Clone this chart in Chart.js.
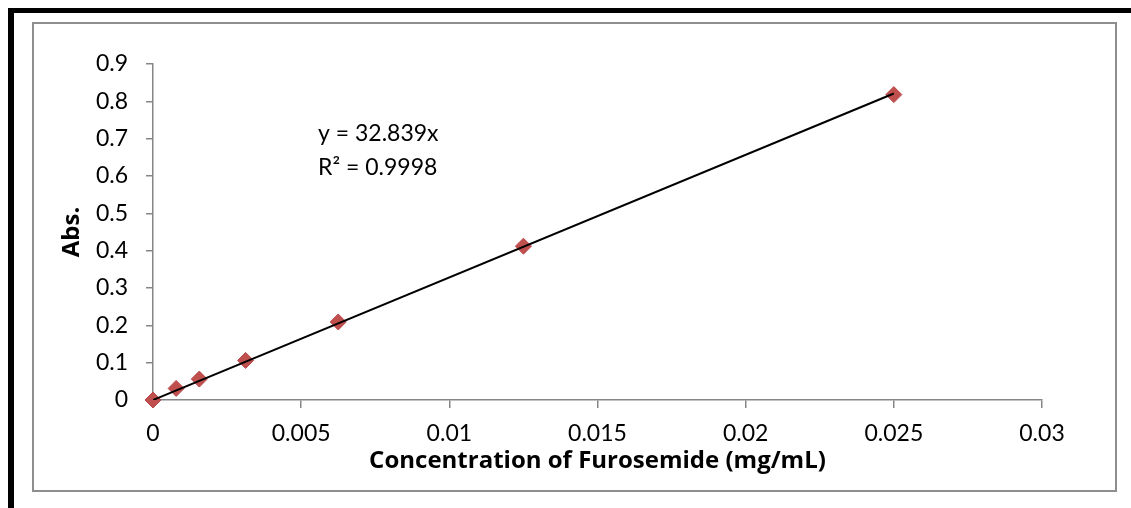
<!DOCTYPE html>
<html>
<head>
<meta charset="utf-8">
<script src="https://cdn.jsdelivr.net/npm/chart.js@4"></script>
<style>
  html, body { margin: 0; padding: 0; background: #fff; overflow: hidden; }
  #frame { position: absolute; left: 8px; top: 8px; width: 2000px; height: 1000px;
           border-left: 6px solid #000; border-top: 5px solid #000; }
  #box { position: absolute; left: 32px; top: 22px; width: 1081px; height: 466px;
         border: 2px solid #8e8e8e; }
  #myChart { position: absolute; left: 0; top: 0; }
</style>
</head>
<body>
<div id="frame"></div>
<div id="box"></div>
<canvas id="myChart" width="1131" height="508"></canvas>
<script>
// data
var concentracao = [0, 0.00078125, 0.0015625, 0.003125, 0.00625, 0.0125, 0.025];
var absorbancia = [0, 0.031, 0.056, 0.106, 0.209, 0.412, 0.818];

// linear trendline (y = 32.839x) endpoints
var tendenciaX = [0, 0.025];
var tendenciaY = [0, 0.821];

var rotulosX = ['0', '0.005', '0.01', '0.015', '0.02', '0.025', '0.03'];
var rotulosY = ['0', '0.1', '0.2', '0.3', '0.4', '0.5', '0.6', '0.7', '0.8', '0.9'];

var equacao = ['y = 32.839x', 'R\u00B2 = 0.9998'];

var fonte = 'Lato';
var fonteTitulo = 'Open Sans';
var cinza = '#868686';

var ctx = document.getElementById('myChart').getContext('2d');

// ************************ equation text ************************
const textoEquacao = {
    id: 'textoEquacao',
    afterDatasetsDraw(chart) {
        const c = chart.ctx;
        c.save();
        c.font = '23px ' + fonte;
        c.fillStyle = '#000';
        c.textAlign = 'left';
        c.textBaseline = 'alphabetic';
        c.fillText(equacao[0], 318, 141);
        c.fillText(equacao[1], 318, 175);
        c.restore();
    }
};

const data = {
    datasets: [{
        type: 'line',
        data: tendenciaX.map((x, i) => ({ x: x, y: tendenciaY[i] })),
        borderColor: '#000',
        borderWidth: 2,
        pointRadius: 0,
        fill: false
    }, {
        type: 'scatter',
        data: concentracao.map((x, i) => ({ x: x, y: absorbancia[i] })),
        pointStyle: 'rectRot',
        pointRadius: 8,
        backgroundColor: '#C0504D',
        borderColor: '#B8474A',
        borderWidth: 1,
        clip: false
    }]
};

const opcoes = {
    responsive: false,
    animation: false,
    devicePixelRatio: 1,
    layout: { padding: { left: 0, top: 64, right: 89, bottom: 0 } },
    plugins: {
        legend: { display: false },
        tooltip: { enabled: false }
    },
    scales: {
        x: {
            type: 'linear',
            min: 0,
            max: 0.03,
            afterFit: s => { s.height = 108; },
            afterBuildTicks: s => {
                s.ticks = rotulosX.map(v => ({ value: parseFloat(v) }));
            },
            ticks: {
                padding: 12,
                color: '#000',
                font: { family: fonte, size: 23 },
                maxRotation: 0,
                callback: (v, i) => rotulosX[i]
            },
            grid: { drawOnChartArea: false, color: cinza, tickLength: 8, lineWidth: 1.5 },
            border: { color: cinza, width: 1.5 },
            title: {
                display: true,
                text: 'Concentration of Furosemide (mg/mL)',
                color: '#000',
                font: { family: fonteTitulo, size: 24, weight: 'bold' },
                padding: { top: 0, bottom: 32 }
            }
        },
        y: {
            type: 'linear',
            min: 0,
            max: 0.9,
            afterFit: s => { s.width = 153; },
            afterBuildTicks: s => {
                s.ticks = rotulosY.map(v => ({ value: parseFloat(v) }));
            },
            ticks: {
                padding: 18,
                color: '#000',
                font: { family: fonte, size: 23 },
                callback: (v, i) => rotulosY[i]
            },
            grid: { drawOnChartArea: false, color: cinza, tickLength: 7, lineWidth: 1.5 },
            border: { color: cinza, width: 1.5 },
            title: {
                display: true,
                text: 'Abs.',
                color: '#000',
                font: { family: fonteTitulo, size: 24, weight: 'bold' },
                padding: { top: 58, bottom: 0 }
            }
        }
    }
};

var myChart = new Chart(ctx, {
    data: data,
    options: opcoes,
    plugins: [textoEquacao]
});
</script>
</body>
</html>
